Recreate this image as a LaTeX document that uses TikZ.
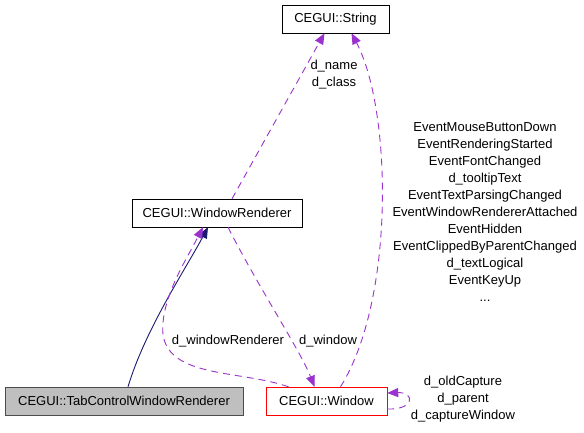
\documentclass[tikz,border=0pt]{standalone}
\usepackage{fontspec}
\setmainfont{Liberation Sans}
\usetikzlibrary{arrows.meta}
\definecolor{edgepurple}{HTML}{9A32CD}
\definecolor{inhblue}{HTML}{191970}
\definecolor{basegray}{HTML}{BFBFBF}

\begin{document}
\begin{tikzpicture}[x=1pt, y=-1pt,
    cls/.style={draw, minimum height=28pt, inner sep=0pt, font=\fontsize{13}{17}\selectfont},
    member/.style={edgepurple, dash pattern=on 7pt off 5pt, line width=0.9pt, -{Triangle[length=11pt,width=9pt]}},
    inherit/.style={inhblue, line width=0.9pt, -{Triangle[length=11pt,width=9pt]}},
    lbl/.style={align=center, font=\fontsize{13}{17}\selectfont, inner sep=0pt}]
    \useasboundingbox (0,0) rectangle (584,433);
    \node[cls, minimum width=107pt] (str) at (335.5,19) {CEGUI::String};
    \node[cls, minimum width=170pt] (wr) at (217,213) {CEGUI::WindowRenderer};
    \node[cls, minimum width=238pt, fill=basegray, draw=black!70] (tab) at (124,401) {CEGUI::TabControlWindowRenderer};
    \node[cls, minimum width=121pt, draw=red] (win) at (326.5,401) {CEGUI::Window};
    \draw[member] ([xshift=15pt]wr.north) -- ([xshift=-11pt]str.south);
    \node[lbl] (namelbl) at (334,75) {d\_name\\d\_class};
    \draw[member] ([xshift=14pt]win.north) .. controls (395,300) and (392,110) .. ([xshift=16pt]str.south);
    \node[lbl] (eventlbl) at (485,212) {EventMouseButtonDown\\EventRenderingStarted\\EventFontChanged\\d\_tooltipText\\EventTextParsingChanged\\EventWindowRendererAttached\\EventHidden\\EventClippedByParentChanged\\d\_textLogical\\EventKeyUp\\...};
    \draw[inherit] ([xshift=4pt]tab.north) .. controls (145,330) and (185,270) .. ([xshift=-9pt]wr.south);
    \draw[member] ([xshift=-38pt]win.north) .. controls (240,370) and (170,378) .. (163,335) .. controls (160,300) and (185,262) .. ([xshift=-14pt]wr.south);
    \node[lbl] (wrlbl) at (228,341) {d\_windowRenderer};
    \draw[member] ([xshift=11pt]wr.south) .. controls (260,290) and (300,350) .. ([xshift=-12pt]win.north);
    \node[lbl] (winlbl) at (328,341) {d\_window};
    \draw[member] ([yshift=-8pt]win.east) .. controls (415,410) and (415,392) .. ([yshift=8pt]win.east);
    \node[lbl] (selflbl) at (463,399) {d\_oldCapture\\d\_parent\\d\_captureWindow};
\end{tikzpicture}
\end{document}
